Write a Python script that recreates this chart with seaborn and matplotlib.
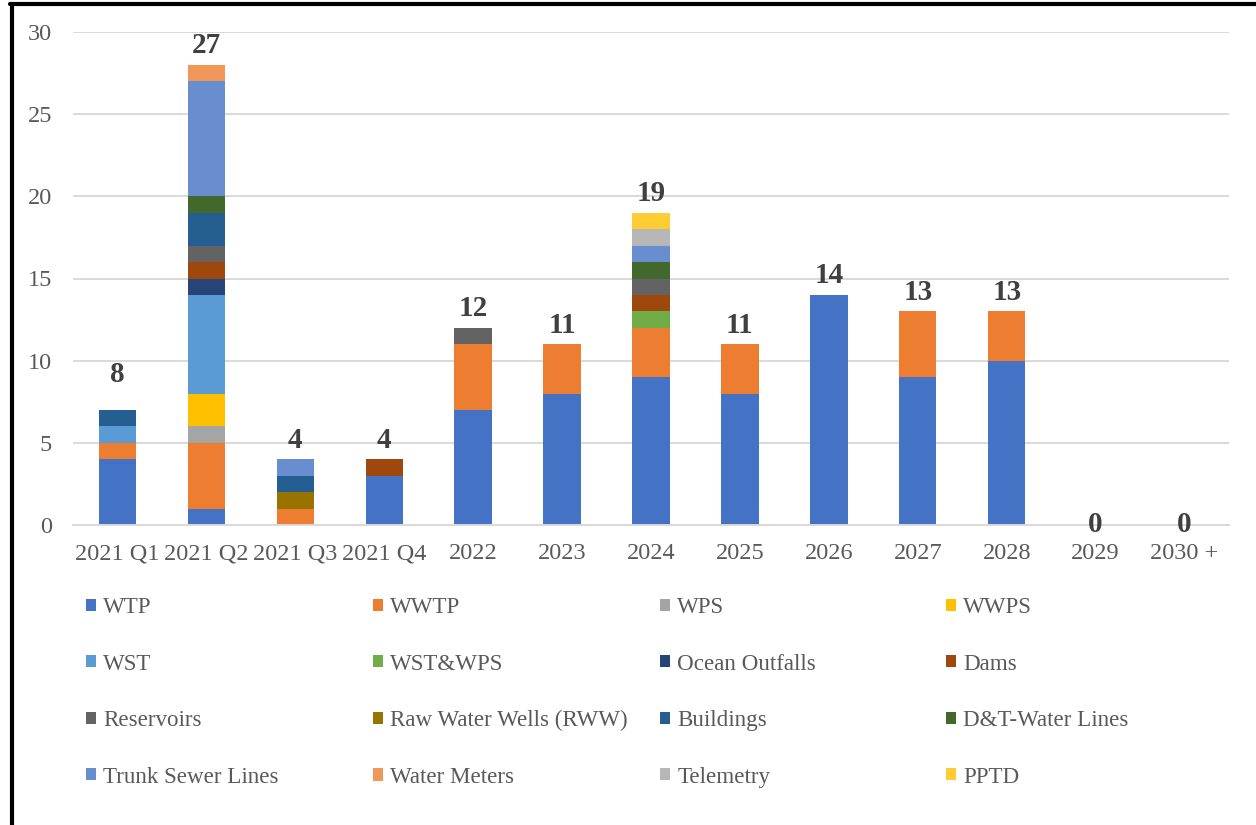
import numpy as np
import seaborn as sns
import matplotlib.pyplot as plt
from matplotlib.patches import Patch
from matplotlib.lines import Line2D

periods = ["2021 Q1", "2021 Q2", "2021 Q3", "2021 Q4", "2022", "2023", "2024",
           "2025", "2026", "2027", "2028", "2029", "2030 +"]
total_labels = [8, 27, 4, 4, 12, 11, 19, 11, 14, 13, 13, 0, 0]

# stack order, bottom to top
wtp = [4, 1, 0, 3, 7, 8, 9, 8, 14, 9, 10, 0, 0]
wwtp = [1, 4, 1, 0, 4, 3, 3, 3, 0, 4, 3, 0, 0]
wps = [0, 1, 0, 0, 0, 0, 0, 0, 0, 0, 0, 0, 0]
wwps = [0, 2, 0, 0, 0, 0, 0, 0, 0, 0, 0, 0, 0]
wst = [1, 6, 0, 0, 0, 0, 0, 0, 0, 0, 0, 0, 0]
wst_wps = [0, 0, 0, 0, 0, 0, 1, 0, 0, 0, 0, 0, 0]
ocean_outfalls = [0, 1, 0, 0, 0, 0, 0, 0, 0, 0, 0, 0, 0]
dams = [0, 1, 0, 1, 0, 0, 1, 0, 0, 0, 0, 0, 0]
reservoirs = [0, 1, 0, 0, 1, 0, 1, 0, 0, 0, 0, 0, 0]
rww = [0, 0, 1, 0, 0, 0, 0, 0, 0, 0, 0, 0, 0]
buildings = [1, 2, 1, 0, 0, 0, 0, 0, 0, 0, 0, 0, 0]
dt_water_lines = [0, 1, 0, 0, 0, 0, 1, 0, 0, 0, 0, 0, 0]
trunk_sewer = [0, 7, 1, 0, 0, 0, 1, 0, 0, 0, 0, 0, 0]
water_meters = [0, 1, 0, 0, 0, 0, 0, 0, 0, 0, 0, 0, 0]
telemetry = [0, 0, 0, 0, 0, 0, 1, 0, 0, 0, 0, 0, 0]
pptd = [0, 0, 0, 0, 0, 0, 1, 0, 0, 0, 0, 0, 0]

series_names = ["WTP", "WWTP", "WPS", "WWPS", "WST", "WST&WPS", "Ocean Outfalls",
                "Dams", "Reservoirs", "Raw Water Wells (RWW)", "Buildings",
                "D&T-Water Lines", "Trunk Sewer Lines", "Water Meters",
                "Telemetry", "PPTD"]
series_values = [wtp, wwtp, wps, wwps, wst, wst_wps, ocean_outfalls, dams,
                 reservoirs, rww, buildings, dt_water_lines, trunk_sewer,
                 water_meters, telemetry, pptd]
colors = ["#4472C4", "#ED7D31", "#A5A5A5", "#FFC000", "#5B9BD5", "#70AD47",
          "#264478", "#9E480E", "#636363", "#997300", "#255E91", "#43682B",
          "#698ED0", "#F1975A", "#B7B7B7", "#FFCD33"]

sns.set_style("white")
plt.rcParams["font.family"] = ["Liberation Serif", "DejaVu Serif"]

fig = plt.figure(figsize=(12.56, 8.25), dpi=100)
ax = fig.add_axes([73 / 1256, 1 - 525 / 825, (1229 - 73) / 1256, (525 - 32) / 825])

cum = np.cumsum(np.array(series_values), axis=0)
# draw tallest cumulative first so each lower layer overlays it
for i in range(len(series_names) - 1, -1, -1):
    sns.barplot(x=periods, y=cum[i], color=colors[i], width=0.42,
                saturation=1, ax=ax, linewidth=0)

totals = cum[-1]
for i, lab in enumerate(total_labels):
    top = max(totals[i], lab)
    if top == 0:
        ax.annotate(str(lab), (i, 0), ha="center", va="center",
                    fontsize=21, fontweight="bold", color="#404040")
    else:
        ax.annotate(str(lab), (i, top), xytext=(0, 4), textcoords="offset points",
                    ha="center", va="bottom", fontsize=21, fontweight="bold",
                    color="#404040")

ax.set_ylim(0, 30)
ax.set_yticks(range(0, 31, 5))
ax.yaxis.grid(True, color="#d9d9d9", linewidth=1.4)
ax.set_axisbelow(True)
for s in ["left", "right", "top"]:
    ax.spines[s].set_visible(False)
ax.spines["bottom"].set_color("#d9d9d9")
ax.spines["bottom"].set_linewidth(1.4)
ax.tick_params(axis="y", length=0, pad=15, labelsize=17.5, labelcolor="#595959")
ax.tick_params(axis="x", length=0, pad=13, labelsize=17.5, labelcolor="#595959")
ax.set_xlabel("")
ax.set_ylabel("")

# legend: four fixed-width columns, filled row by row
col_x = [86, 373, 660, 946]
for c in range(4):
    idx = [r * 4 + c for r in range(4)]
    handles = [Patch(facecolor=colors[k], edgecolor="none") for k in idx]
    labels = [series_names[k] for k in idx]
    fig.legend(handles, labels, loc="upper left",
               bbox_to_anchor=(col_x[c] / 1256, 1 - 597 / 825),
               frameon=False, ncol=1, fontsize=16.6, labelcolor="#595959",
               handlelength=0.45, handleheight=0.45, handletextpad=0.3,
               labelspacing=1.54, borderaxespad=0, borderpad=0)

fig.add_artist(Line2D([10 / 1256, 1], [1 - 4 / 825, 1 - 4 / 825],
                      transform=fig.transFigure, color="black", linewidth=3))
fig.add_artist(Line2D([12 / 1256, 12 / 1256], [0, 1 - 4 / 825],
                      transform=fig.transFigure, color="black", linewidth=3))

fig.savefig("out.png", dpi=100)
